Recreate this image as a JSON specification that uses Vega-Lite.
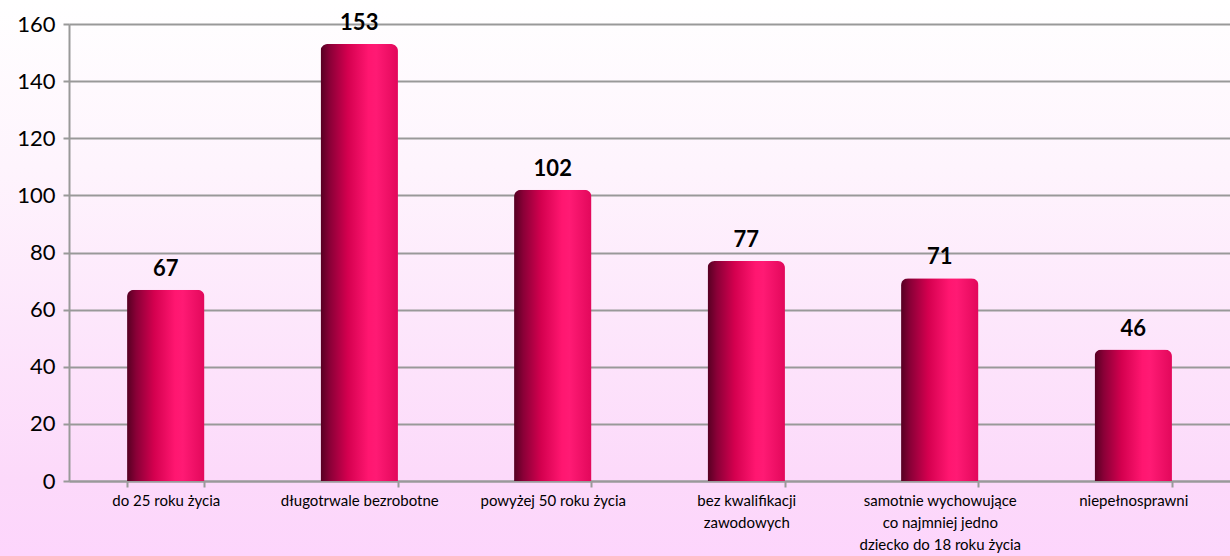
{
  "$schema": "https://vega.github.io/schema/vega-lite/v6.json",
  "autosize": {"type": "none"},
  "width": 1230,
  "height": 556,
  "padding": 0,
  "background": "#fdd6fc",
  "config": {
    "font": "Lato",
    "view": {
      "stroke": null,
      "fill": {
        "gradient": "linear", "x1": 0, "y1": 0, "x2": 0, "y2": 1,
        "stops": [
          {"offset": 0, "color": "#ffffff"},
          {"offset": 0.3, "color": "#fef4fd"},
          {"offset": 0.865, "color": "#fcd9fa"},
          {"offset": 1, "color": "#fdd5fc"}
        ]
      }
    }
  },
  "data": {
    "values": [
      {"kategoria": "do 25 roku życia", "liczba": 67},
      {"kategoria": "długotrwale bezrobotne", "liczba": 153},
      {"kategoria": "powyżej 50 roku życia", "liczba": 102},
      {"kategoria": "bez kwalifikacji zawodowych", "liczba": 77},
      {"kategoria": "samotnie wychowujące co najmniej jedno dziecko do 18 roku życia", "liczba": 71},
      {"kategoria": "niepełnosprawni", "liczba": 46}
    ]
  },
  "encoding": {
    "x": {
      "field": "kategoria", "type": "nominal", "sort": null,
      "scale": {"paddingInner": 0.6, "paddingOuter": 0.3, "range": [69, 1230]},
      "axis": {
        "title": null, "labelAngle": 0, "labelFontSize": 15, "labelColor": "#000000",
        "labelFont": "Lato", "labelLineHeight": 22, "labelPadding": 6,
        "labelLimit": 300, "offset": -75,
        "labelExpr": "datum.label == 'bez kwalifikacji zawodowych' ? ['bez kwalifikacji', 'zawodowych'] : datum.label == 'samotnie wychowujące co najmniej jedno dziecko do 18 roku życia' ? ['samotnie wychowujące', 'co najmniej jedno', 'dziecko do 18 roku życia'] : datum.label",
        "labelBaseline": "top",
        "domainColor": "#999999", "domainWidth": 2,
        "tickColor": "#999999", "tickWidth": 2, "tickSize": 6, "tickBand": "extent"
      }
    }
  },
  "layer": [
    {
      "mark": {
        "type": "bar",
        "cornerRadiusTopLeft": 7, "cornerRadiusTopRight": 7,
        "color": {
          "gradient": "linear", "x1": 0, "y1": 0, "x2": 1, "y2": 0,
          "stops": [
            {"offset": 0, "color": "#550022"},
            {"offset": 0.12, "color": "#8a0037"},
            {"offset": 0.35, "color": "#d4004f"},
            {"offset": 0.62, "color": "#ff1670"},
            {"offset": 0.72, "color": "#ff1a74"},
            {"offset": 1, "color": "#e2085b"}
          ]
        }
      },
      "encoding": {
        "y": {
          "field": "liczba", "type": "quantitative",
          "scale": {"domain": [0, 160], "nice": false, "range": [481, 24]},
          "axis": {
            "title": null, "values": [0, 20, 40, 60, 80, 100, 120, 140, 160],
            "labelFontSize": 22, "labelColor": "#000000", "labelFont": "Lato",
            "labelPadding": 8, "offset": -69,
            "domainColor": "#999999", "domainWidth": 2,
            "tickColor": "#999999", "tickWidth": 2, "tickSize": 6,
            "gridColor": "#999999", "gridWidth": 2, "grid": true
          }
        }
      }
    },
    {
      "mark": {"type": "text", "baseline": "bottom", "dy": -9, "fontSize": 22, "fontWeight": "bold", "color": "#000000", "font": "Lato"},
      "encoding": {
        "y": {"field": "liczba", "type": "quantitative"},
        "text": {"field": "liczba", "type": "quantitative"}
      }
    }
  ]
}
